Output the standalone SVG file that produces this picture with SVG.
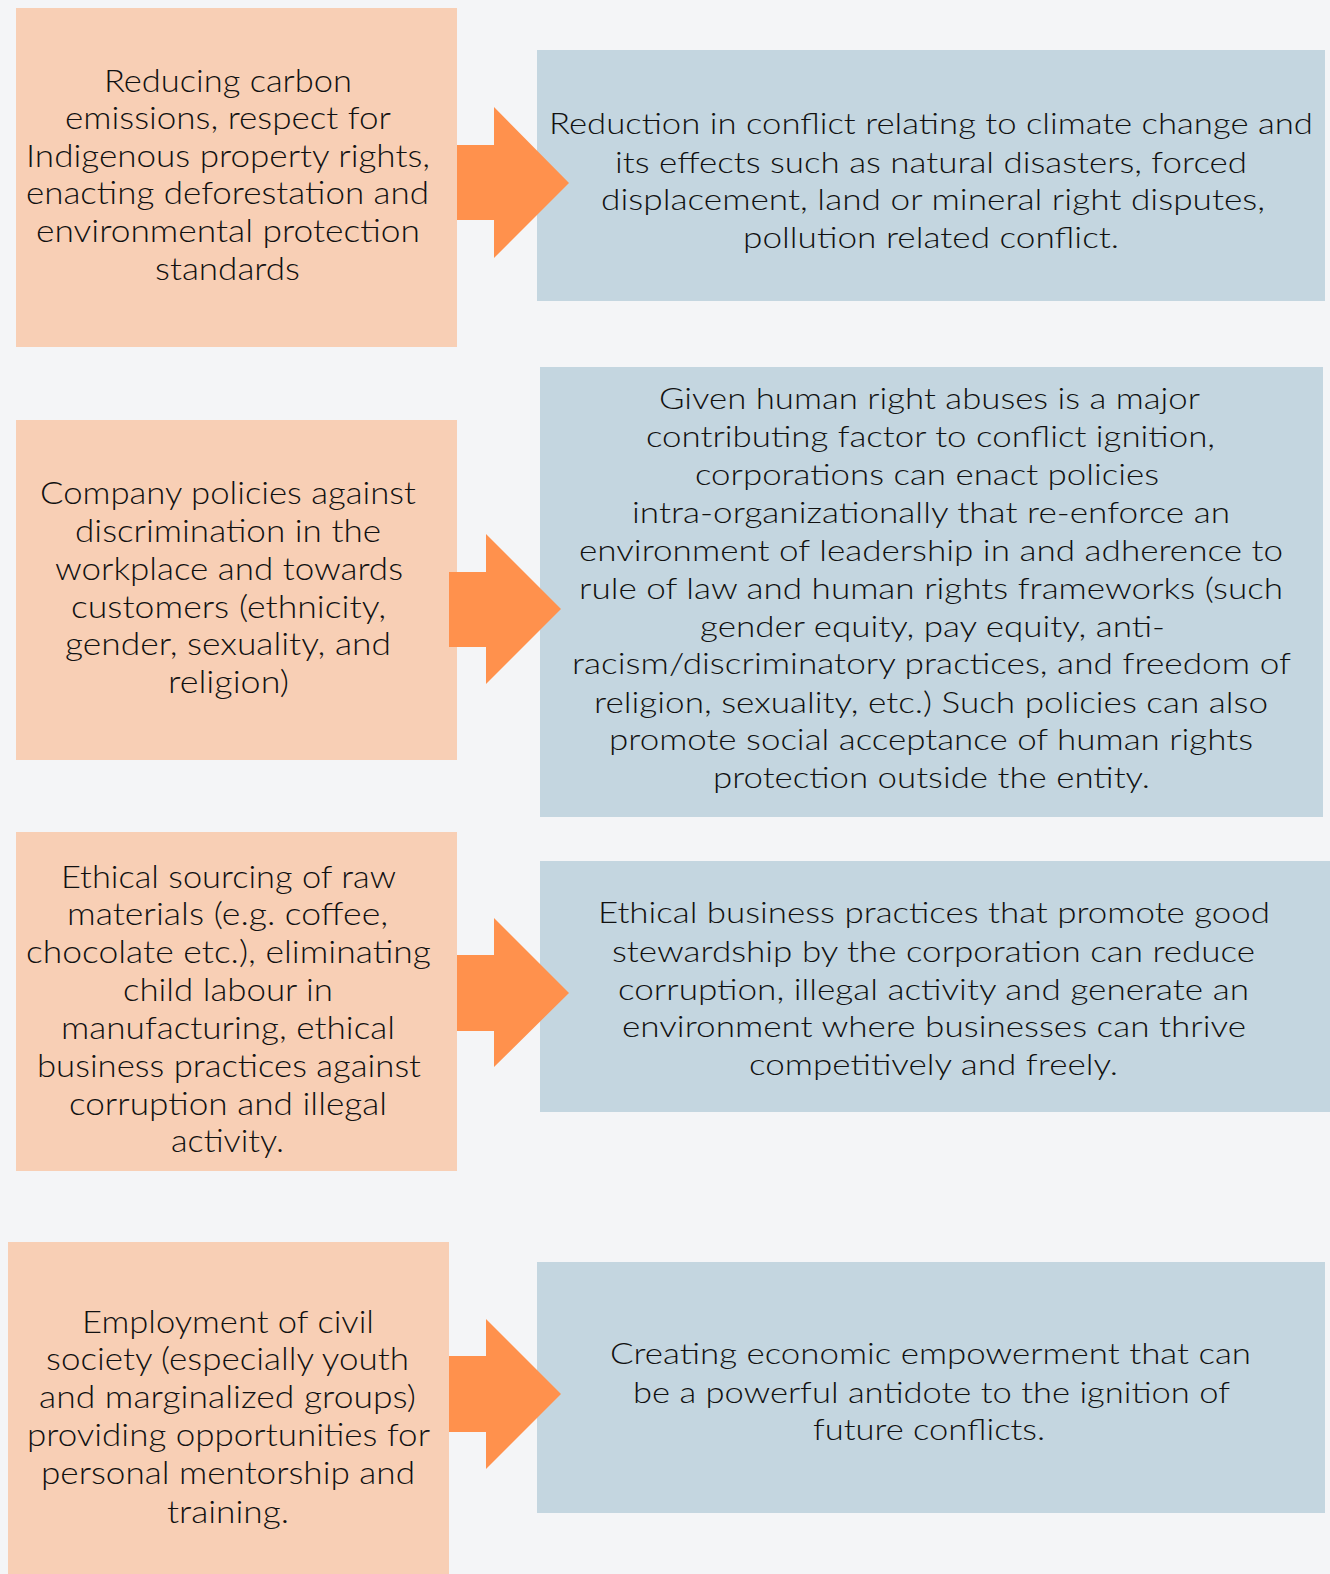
<svg xmlns="http://www.w3.org/2000/svg" width="1330" height="1574" viewBox="0 0 1330 1574">
  <style>
    .cause { fill: #F8CFB5; }
    .effect { fill: #C4D6E0; }
    .arrow { fill: #FF914D; }
    text { font-family: Lato, "Liberation Sans", sans-serif; font-weight: 300; fill: #111111; }
    .lt { font-size: 31px; }
    .rt { font-size: 29.5px; }
  </style>
  <rect x="0" y="0" width="1330" height="1574" fill="#F4F5F7"/>

  <!-- Row 1 -->
  <g id="cause-climate">
    <rect class="cause" x="16" y="8" width="441" height="339"/>
    <text class="lt" x="104" y="92" textLength="248" lengthAdjust="spacingAndGlyphs">Reducing carbon</text>
    <text class="lt" x="65" y="129" textLength="326" lengthAdjust="spacingAndGlyphs">emissions, respect for</text>
    <text class="lt" x="26" y="167" textLength="404" lengthAdjust="spacingAndGlyphs">Indigenous property rights,</text>
    <text class="lt" x="26" y="204" textLength="403" lengthAdjust="spacingAndGlyphs">enacting deforestation and</text>
    <text class="lt" x="36" y="242" textLength="384" lengthAdjust="spacingAndGlyphs">environmental protection</text>
    <text class="lt" x="155" y="280" textLength="145" lengthAdjust="spacingAndGlyphs">standards</text>
  </g>
  <g id="effect-climate">
    <rect class="effect" x="537" y="50" width="788" height="251"/>
    <text class="rt" x="549" y="134" textLength="764" lengthAdjust="spacingAndGlyphs">Reduction in conflict relating to climate change and</text>
    <text class="rt" x="615" y="173" textLength="632" lengthAdjust="spacingAndGlyphs">its effects such as natural disasters, forced</text>
    <text class="rt" x="601" y="210" textLength="664" lengthAdjust="spacingAndGlyphs">displacement, land or mineral right disputes,</text>
    <text class="rt" x="743" y="248" textLength="376" lengthAdjust="spacingAndGlyphs">pollution related conflict.</text>
  </g>

  <!-- Row 2 -->
  <g id="cause-policies">
    <rect class="cause" x="16" y="420" width="441" height="340"/>
    <text class="lt" x="40" y="504" textLength="376" lengthAdjust="spacingAndGlyphs">Company policies against</text>
    <text class="lt" x="75" y="542" textLength="306" lengthAdjust="spacingAndGlyphs">discrimination in the</text>
    <text class="lt" x="55" y="580" textLength="348" lengthAdjust="spacingAndGlyphs">workplace and towards</text>
    <text class="lt" x="71" y="618" textLength="315" lengthAdjust="spacingAndGlyphs">customers (ethnicity,</text>
    <text class="lt" x="65" y="655" textLength="326" lengthAdjust="spacingAndGlyphs">gender, sexuality, and</text>
    <text class="lt" x="168" y="693" textLength="121" lengthAdjust="spacingAndGlyphs">religion)</text>
  </g>
  <g id="effect-policies">
    <rect class="effect" x="540" y="367" width="783" height="450"/>
    <text class="rt" x="659" y="409" textLength="541" lengthAdjust="spacingAndGlyphs">Given human right abuses is a major</text>
    <text class="rt" x="646" y="447" textLength="569" lengthAdjust="spacingAndGlyphs">contributing factor to conflict ignition,</text>
    <text class="rt" x="695" y="485" textLength="464" lengthAdjust="spacingAndGlyphs">corporations can enact policies</text>
    <text class="rt" x="632" y="523" textLength="598" lengthAdjust="spacingAndGlyphs">intra-organizationally that re-enforce an</text>
    <text class="rt" x="579" y="561" textLength="704" lengthAdjust="spacingAndGlyphs">environment of leadership in and adherence to</text>
    <text class="rt" x="579" y="599" textLength="704" lengthAdjust="spacingAndGlyphs">rule of law and human rights frameworks (such</text>
    <text class="rt" x="700" y="637" textLength="465" lengthAdjust="spacingAndGlyphs">gender equity, pay equity, anti-</text>
    <text class="rt" x="572" y="674" textLength="719" lengthAdjust="spacingAndGlyphs">racism/discriminatory practices, and freedom of</text>
    <text class="rt" x="594" y="713" textLength="674" lengthAdjust="spacingAndGlyphs">religion, sexuality, etc.) Such policies can also</text>
    <text class="rt" x="609" y="750" textLength="644" lengthAdjust="spacingAndGlyphs">promote social acceptance of human rights</text>
    <text class="rt" x="713" y="788" textLength="437" lengthAdjust="spacingAndGlyphs">protection outside the entity.</text>
  </g>

  <!-- Row 3 -->
  <g id="cause-sourcing">
    <rect class="cause" x="16" y="832" width="441" height="339"/>
    <text class="lt" x="61" y="888" textLength="335" lengthAdjust="spacingAndGlyphs">Ethical sourcing of raw</text>
    <text class="lt" x="67" y="925" textLength="321" lengthAdjust="spacingAndGlyphs">materials (e.g. coffee,</text>
    <text class="lt" x="26" y="963" textLength="405" lengthAdjust="spacingAndGlyphs">chocolate etc.), eliminating</text>
    <text class="lt" x="123" y="1001" textLength="210" lengthAdjust="spacingAndGlyphs">child labour in</text>
    <text class="lt" x="61" y="1039" textLength="334" lengthAdjust="spacingAndGlyphs">manufacturing, ethical</text>
    <text class="lt" x="37" y="1077" textLength="384" lengthAdjust="spacingAndGlyphs">business practices against</text>
    <text class="lt" x="69" y="1115" textLength="318" lengthAdjust="spacingAndGlyphs">corruption and illegal</text>
    <text class="lt" x="171" y="1152" textLength="113" lengthAdjust="spacingAndGlyphs">activity.</text>
  </g>
  <g id="effect-sourcing">
    <rect class="effect" x="540" y="861" width="790" height="251"/>
    <text class="rt" x="598" y="923" textLength="672" lengthAdjust="spacingAndGlyphs">Ethical business practices that promote good</text>
    <text class="rt" x="612" y="962" textLength="643" lengthAdjust="spacingAndGlyphs">stewardship by the corporation can reduce</text>
    <text class="rt" x="618" y="1000" textLength="631" lengthAdjust="spacingAndGlyphs">corruption, illegal activity and generate an</text>
    <text class="rt" x="622" y="1037" textLength="624" lengthAdjust="spacingAndGlyphs">environment where businesses can thrive</text>
    <text class="rt" x="749" y="1075" textLength="369" lengthAdjust="spacingAndGlyphs">competitively and freely.</text>
  </g>

  <!-- Row 4 -->
  <g id="cause-employment">
    <rect class="cause" x="8" y="1242" width="441" height="332"/>
    <text class="lt" x="82" y="1333" textLength="292" lengthAdjust="spacingAndGlyphs">Employment of civil</text>
    <text class="lt" x="46" y="1370" textLength="363" lengthAdjust="spacingAndGlyphs">society (especially youth</text>
    <text class="lt" x="39" y="1408" textLength="377" lengthAdjust="spacingAndGlyphs">and marginalized groups)</text>
    <text class="lt" x="27" y="1446" textLength="403" lengthAdjust="spacingAndGlyphs">providing opportunities for</text>
    <text class="lt" x="41" y="1484" textLength="374" lengthAdjust="spacingAndGlyphs">personal mentorship and</text>
    <text class="lt" x="167" y="1523" textLength="122" lengthAdjust="spacingAndGlyphs">training.</text>
  </g>
  <g id="effect-employment">
    <rect class="effect" x="537" y="1262" width="788" height="251"/>
    <text class="rt" x="610" y="1364" textLength="641" lengthAdjust="spacingAndGlyphs">Creating economic empowerment that can</text>
    <text class="rt" x="633" y="1403" textLength="597" lengthAdjust="spacingAndGlyphs">be a powerful antidote to the ignition of</text>
    <text class="rt" x="813" y="1440" textLength="232" lengthAdjust="spacingAndGlyphs">future conflicts.</text>
  </g>

  <!-- Block arrows linking each cause to its effect -->
  <g id="connectors">
    <polygon class="arrow" points="457,145 494,145 494,107 569,183 494,258 494,220 457,220"/>
    <polygon class="arrow" points="449,572 486,572 486,534 561,609 486,684 486,647 449,647"/>
    <polygon class="arrow" points="457,955 494,955 494,918 569,993 494,1067 494,1031 457,1031"/>
    <polygon class="arrow" points="449,1356 486,1356 486,1319 561,1394 486,1469 486,1432 449,1432"/>
  </g>
</svg>
